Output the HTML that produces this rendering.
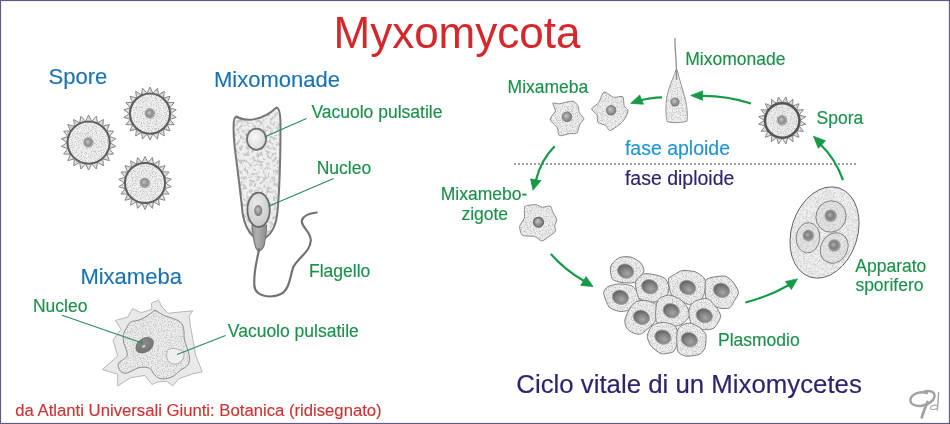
<!DOCTYPE html>
<html><head><meta charset="utf-8"><style>
html,body{margin:0;padding:0;background:#fff;}
svg{display:block;font-family:"Liberation Sans",sans-serif;will-change:transform;}
</style></head><body>
<svg width="950" height="424" viewBox="0 0 950 424">
<defs>
<radialGradient id="nucg" cx="0.5" cy="0.5" r="0.55" fx="0.4" fy="0.38"><stop offset="0" stop-color="#c8c8c8"/><stop offset="0.55" stop-color="#959595"/><stop offset="1" stop-color="#727272"/></radialGradient>
<radialGradient id="sporefill" cx="0.5" cy="0.5" r="0.5"><stop offset="0" stop-color="#e2e2e2"/><stop offset="1" stop-color="#d6d6d6"/></radialGradient>
<radialGradient id="vacg" cx="0.4" cy="0.4" r="0.7"><stop offset="0" stop-color="#f8f8f8"/><stop offset="1" stop-color="#d6d6d6"/></radialGradient>
<linearGradient id="neckg" x1="0" y1="0" x2="1" y2="0"><stop offset="0" stop-color="#9a9a9a"/><stop offset="0.35" stop-color="#b0b0b0"/><stop offset="1" stop-color="#8c8c8c"/></linearGradient>
<radialGradient id="nuclg" cx="0.4" cy="0.35" r="0.75"><stop offset="0" stop-color="#ebebeb"/><stop offset="1" stop-color="#c4c4c4"/></radialGradient>
<radialGradient id="nucdark" cx="0.55" cy="0.4" r="0.7"><stop offset="0" stop-color="#8a8a8a"/><stop offset="0.7" stop-color="#767676"/><stop offset="1" stop-color="#626262"/></radialGradient>
<radialGradient id="nucp" cx="0.62" cy="0.62" r="0.72"><stop offset="0" stop-color="#a4a4a4"/><stop offset="0.45" stop-color="#858585"/><stop offset="0.8" stop-color="#676767"/><stop offset="1" stop-color="#5a5a5a"/></radialGradient>
<filter id="speck" x="0" y="0" width="1" height="1" color-interpolation-filters="sRGB">
<feTurbulence type="fractalNoise" baseFrequency="0.8" numOctaves="2" seed="4" result="n"/>
<feColorMatrix in="n" type="matrix" values="0 0 0 0 0.78  0 0 0 0 0.78  0 0 0 0 0.78  -4.5 0 0 0 2.4" result="dots"/>
<feComposite in="dots" in2="SourceGraphic" operator="in" result="d2"/>
<feMerge><feMergeNode in="SourceGraphic"/><feMergeNode in="d2"/></feMerge>
</filter>
<filter id="blotch" x="0" y="0" width="1" height="1" color-interpolation-filters="sRGB">
<feTurbulence type="fractalNoise" baseFrequency="0.3" numOctaves="3" seed="7" result="n"/>
<feColorMatrix in="n" type="matrix" values="0 0 0 0 0.79  0 0 0 0 0.79  0 0 0 0 0.79  -6 0 0 0 3.2" result="dots"/>
<feComposite in="dots" in2="SourceGraphic" operator="in" result="d2"/>
<feMerge><feMergeNode in="SourceGraphic"/><feMergeNode in="d2"/></feMerge>
</filter>
<radialGradient id="nucsoft" cx="0.5" cy="0.5" r="0.5" fx="0.4" fy="0.4"><stop offset="0" stop-color="#c4c4c4"/><stop offset="0.55" stop-color="#8e8e8e"/><stop offset="0.8" stop-color="#9a9a9a" stop-opacity="0.8"/><stop offset="1" stop-color="#d0d0d0" stop-opacity="0"/></radialGradient>
<radialGradient id="nucsoft2" cx="0.5" cy="0.5" r="0.5" fx="0.4" fy="0.4"><stop offset="0" stop-color="#b0b0b0"/><stop offset="0.5" stop-color="#7e7e7e"/><stop offset="0.8" stop-color="#909090" stop-opacity="0.85"/><stop offset="1" stop-color="#c0c0c0" stop-opacity="0"/></radialGradient>
</defs>
<rect x="0.5" y="0.5" width="949" height="423" fill="#fff" stroke="#625b80" stroke-width="1"/><rect x="1.5" y="1.5" width="947" height="421" fill="none" stroke="#efecff" stroke-width="1"/><text x="333.5" y="48" font-size="44" fill="#d6282b" stroke="#d6282b" stroke-width="0" >Myxomycota</text><text x="48.6" y="84.4" font-size="22" fill="#1a72b4" stroke="#1a72b4" stroke-width="0.15" >Spore</text><text x="214" y="86.5" font-size="22" fill="#1a72b4" stroke="#1a72b4" stroke-width="0.15" >Mixomonade</text><text x="311.4" y="118.4" font-size="17.5" fill="#1a9149" stroke="#1a9149" stroke-width="0.15" >Vacuolo pulsatile</text><text x="316.7" y="173.6" font-size="17.5" fill="#1a9149" stroke="#1a9149" stroke-width="0.15" >Nucleo</text><text x="309" y="276.5" font-size="17.5" fill="#1a9149" stroke="#1a9149" stroke-width="0.15" >Flagello</text><text x="80.4" y="283.5" font-size="22" fill="#1a72b4" stroke="#1a72b4" stroke-width="0.15" >Mixameba</text><text x="32.9" y="311.8" font-size="17.5" fill="#1a9149" stroke="#1a9149" stroke-width="0.15" >Nucleo</text><text x="227.8" y="336.8" font-size="17.5" fill="#1a9149" stroke="#1a9149" stroke-width="0.15" >Vacuolo pulsatile</text><text x="15.3" y="416" font-size="16.7" fill="#cc3535" stroke="#cc3535" stroke-width="0.15" >da Atlanti Universali Giunti: Botanica (ridisegnato)</text><text x="685.3" y="64.7" font-size="17.5" fill="#1a9149" stroke="#1a9149" stroke-width="0.15" >Mixomonade</text><text x="507.6" y="92.6" font-size="17.5" fill="#1a9149" stroke="#1a9149" stroke-width="0.15" >Mixameba</text><text x="816.6" y="123.5" font-size="17.5" fill="#1a9149" stroke="#1a9149" stroke-width="0.15" >Spora</text><text x="624.9" y="154.5" font-size="19.5" fill="#1f95d6" stroke="#1f95d6" stroke-width="0.15" >fase aploide</text><text x="624.9" y="184.8" font-size="19.5" fill="#2b2470" stroke="#2b2470" stroke-width="0.15" >fase diploide</text><text x="440.8" y="200.3" font-size="17.5" fill="#1a9149" stroke="#1a9149" stroke-width="0.15" >Mixamebo-</text><text x="461.4" y="220.1" font-size="17.5" fill="#1a9149" stroke="#1a9149" stroke-width="0.15" >zigote</text><text x="855.3" y="271.8" font-size="17.5" fill="#1a9149" stroke="#1a9149" stroke-width="0.15" >Apparato</text><text x="855.4" y="291.3" font-size="17.5" fill="#1a9149" stroke="#1a9149" stroke-width="0.15" >sporifero</text><text x="718" y="345.6" font-size="17.5" fill="#1a9149" stroke="#1a9149" stroke-width="0.15" >Plasmodio</text><text x="516.3" y="393.4" font-size="25.8" fill="#2b2470" stroke="#2b2470" stroke-width="0.15" >Ciclo vitale di un Mixomycetes</text><line x1="514" y1="164" x2="856" y2="164" stroke="#9e9e9e" stroke-width="2" stroke-dasharray="2 2"/><path d="M751,103.5 Q725,95.5 701,96" fill="none" stroke="#179a48" stroke-width="2.2"/><path d="M690.7,95.4 L702.7,90.9 L702.5,100.3Z" fill="#179a48" stroke="#179a48" stroke-width="0.8" stroke-linejoin="round"/><path d="M662,97.3 Q650,97.5 640,100.5" fill="none" stroke="#179a48" stroke-width="2.2"/><path d="M630.7,103.4 L639.7,95 L643.5,104.2Z" fill="#179a48" stroke="#179a48" stroke-width="0.8" stroke-linejoin="round"/><path d="M554.7,146.3 Q541,160 536,180" fill="none" stroke="#179a48" stroke-width="2.2"/><path d="M533,190.2 L530.6,178.9 L541,180.6Z" fill="#179a48" stroke="#179a48" stroke-width="0.8" stroke-linejoin="round"/><path d="M843,180 Q835,158 820,144" fill="none" stroke="#179a48" stroke-width="2.2"/><path d="M813.4,136.3 L818.4,148.3 L825.5,140.8Z" fill="#179a48" stroke="#179a48" stroke-width="0.8" stroke-linejoin="round"/><path d="M550.8,254 Q565,270 584,281" fill="none" stroke="#179a48" stroke-width="2.2"/><path d="M593,286.5 L580.7,285.4 L586,276.5Z" fill="#179a48" stroke="#179a48" stroke-width="0.8" stroke-linejoin="round"/><path d="M745.3,302.5 Q770,296 789,285" fill="none" stroke="#179a48" stroke-width="2.2"/><path d="M797.5,278.9 L785.4,281.5 L791.3,289.5Z" fill="#179a48" stroke="#179a48" stroke-width="0.8" stroke-linejoin="round"/><path d="M110.20,142.60 L115.82,146.51 L109.33,148.69Z M109.33,148.69 L113.61,154.02 L106.77,154.28Z M106.77,154.28 L109.38,160.61 L102.74,158.92Z M102.74,158.92 L103.47,165.73 L97.57,162.25Z M97.57,162.25 L96.35,168.99 L91.67,163.98Z M91.67,163.98 L88.60,170.10 L85.53,163.98Z M85.53,163.98 L80.85,168.99 L79.63,162.25Z M79.63,162.25 L73.73,165.73 L74.46,158.92Z M74.46,158.92 L67.82,160.61 L70.43,154.28Z M70.43,154.28 L63.59,154.02 L67.87,148.69Z M67.87,148.69 L61.38,146.51 L67.00,142.60Z M67.00,142.60 L61.38,138.69 L67.87,136.51Z M67.87,136.51 L63.59,131.18 L70.43,130.92Z M70.43,130.92 L67.82,124.59 L74.46,126.28Z M74.46,126.28 L73.73,119.47 L79.63,122.95Z M79.63,122.95 L80.85,116.21 L85.53,121.22Z M85.53,121.22 L88.60,115.10 L91.67,121.22Z M91.67,121.22 L96.35,116.21 L97.57,122.95Z M97.57,122.95 L103.47,119.47 L102.74,126.28Z M102.74,126.28 L109.38,124.59 L106.77,130.92Z M106.77,130.92 L113.61,131.18 L109.33,136.51Z M109.33,136.51 L115.82,138.69 L110.20,142.60Z " fill="#e6e6e6" filter="url(#speck)"/><path d="M110.20,142.60 L115.82,146.51 L109.33,148.69Z M109.33,148.69 L113.61,154.02 L106.77,154.28Z M106.77,154.28 L109.38,160.61 L102.74,158.92Z M102.74,158.92 L103.47,165.73 L97.57,162.25Z M97.57,162.25 L96.35,168.99 L91.67,163.98Z M91.67,163.98 L88.60,170.10 L85.53,163.98Z M85.53,163.98 L80.85,168.99 L79.63,162.25Z M79.63,162.25 L73.73,165.73 L74.46,158.92Z M74.46,158.92 L67.82,160.61 L70.43,154.28Z M70.43,154.28 L63.59,154.02 L67.87,148.69Z M67.87,148.69 L61.38,146.51 L67.00,142.60Z M67.00,142.60 L61.38,138.69 L67.87,136.51Z M67.87,136.51 L63.59,131.18 L70.43,130.92Z M70.43,130.92 L67.82,124.59 L74.46,126.28Z M74.46,126.28 L73.73,119.47 L79.63,122.95Z M79.63,122.95 L80.85,116.21 L85.53,121.22Z M85.53,121.22 L88.60,115.10 L91.67,121.22Z M91.67,121.22 L96.35,116.21 L97.57,122.95Z M97.57,122.95 L103.47,119.47 L102.74,126.28Z M102.74,126.28 L109.38,124.59 L106.77,130.92Z M106.77,130.92 L113.61,131.18 L109.33,136.51Z M109.33,136.51 L115.82,138.69 L110.20,142.60Z " fill="none" stroke="#888888" stroke-width="1" stroke-linejoin="round"/><circle cx="88.6" cy="142.6" r="21" fill="#f0f0f0" filter="url(#speck)"/><circle cx="88.6" cy="142.6" r="21" fill="none" stroke="#5e5e5e" stroke-width="1.9"/><circle cx="88.6" cy="142.6" r="6" fill="url(#nucsoft)"/><path d="M170.60,113.60 L176.23,117.37 L169.77,119.40Z M169.77,119.40 L174.11,124.61 L167.33,124.74Z M167.33,124.74 L170.03,130.95 L163.49,129.17Z M163.49,129.17 L164.33,135.89 L158.56,132.34Z M158.56,132.34 L157.47,139.03 L152.93,133.99Z M152.93,133.99 L150.00,140.10 L147.07,133.99Z M147.07,133.99 L142.53,139.03 L141.44,132.34Z M141.44,132.34 L135.67,135.89 L136.51,129.17Z M136.51,129.17 L129.97,130.95 L132.67,124.74Z M132.67,124.74 L125.89,124.61 L130.23,119.40Z M130.23,119.40 L123.77,117.37 L129.40,113.60Z M129.40,113.60 L123.77,109.83 L130.23,107.80Z M130.23,107.80 L125.89,102.59 L132.67,102.46Z M132.67,102.46 L129.97,96.25 L136.51,98.03Z M136.51,98.03 L135.67,91.31 L141.44,94.86Z M141.44,94.86 L142.53,88.17 L147.07,93.21Z M147.07,93.21 L150.00,87.10 L152.93,93.21Z M152.93,93.21 L157.47,88.17 L158.56,94.86Z M158.56,94.86 L164.33,91.31 L163.49,98.03Z M163.49,98.03 L170.03,96.25 L167.33,102.46Z M167.33,102.46 L174.11,102.59 L169.77,107.80Z M169.77,107.80 L176.23,109.83 L170.60,113.60Z " fill="#e6e6e6" filter="url(#speck)"/><path d="M170.60,113.60 L176.23,117.37 L169.77,119.40Z M169.77,119.40 L174.11,124.61 L167.33,124.74Z M167.33,124.74 L170.03,130.95 L163.49,129.17Z M163.49,129.17 L164.33,135.89 L158.56,132.34Z M158.56,132.34 L157.47,139.03 L152.93,133.99Z M152.93,133.99 L150.00,140.10 L147.07,133.99Z M147.07,133.99 L142.53,139.03 L141.44,132.34Z M141.44,132.34 L135.67,135.89 L136.51,129.17Z M136.51,129.17 L129.97,130.95 L132.67,124.74Z M132.67,124.74 L125.89,124.61 L130.23,119.40Z M130.23,119.40 L123.77,117.37 L129.40,113.60Z M129.40,113.60 L123.77,109.83 L130.23,107.80Z M130.23,107.80 L125.89,102.59 L132.67,102.46Z M132.67,102.46 L129.97,96.25 L136.51,98.03Z M136.51,98.03 L135.67,91.31 L141.44,94.86Z M141.44,94.86 L142.53,88.17 L147.07,93.21Z M147.07,93.21 L150.00,87.10 L152.93,93.21Z M152.93,93.21 L157.47,88.17 L158.56,94.86Z M158.56,94.86 L164.33,91.31 L163.49,98.03Z M163.49,98.03 L170.03,96.25 L167.33,102.46Z M167.33,102.46 L174.11,102.59 L169.77,107.80Z M169.77,107.80 L176.23,109.83 L170.60,113.60Z " fill="none" stroke="#888888" stroke-width="1" stroke-linejoin="round"/><circle cx="150" cy="113.6" r="20" fill="#f0f0f0" filter="url(#speck)"/><circle cx="150" cy="113.6" r="20" fill="none" stroke="#5e5e5e" stroke-width="1.9"/><circle cx="150" cy="113.6" r="6" fill="url(#nucsoft)"/><path d="M165.60,183.00 L171.23,186.77 L164.77,188.80Z M164.77,188.80 L169.11,194.01 L162.33,194.14Z M162.33,194.14 L165.03,200.35 L158.49,198.57Z M158.49,198.57 L159.33,205.29 L153.56,201.74Z M153.56,201.74 L152.47,208.43 L147.93,203.39Z M147.93,203.39 L145.00,209.50 L142.07,203.39Z M142.07,203.39 L137.53,208.43 L136.44,201.74Z M136.44,201.74 L130.67,205.29 L131.51,198.57Z M131.51,198.57 L124.97,200.35 L127.67,194.14Z M127.67,194.14 L120.89,194.01 L125.23,188.80Z M125.23,188.80 L118.77,186.77 L124.40,183.00Z M124.40,183.00 L118.77,179.23 L125.23,177.20Z M125.23,177.20 L120.89,171.99 L127.67,171.86Z M127.67,171.86 L124.97,165.65 L131.51,167.43Z M131.51,167.43 L130.67,160.71 L136.44,164.26Z M136.44,164.26 L137.53,157.57 L142.07,162.61Z M142.07,162.61 L145.00,156.50 L147.93,162.61Z M147.93,162.61 L152.47,157.57 L153.56,164.26Z M153.56,164.26 L159.33,160.71 L158.49,167.43Z M158.49,167.43 L165.03,165.65 L162.33,171.86Z M162.33,171.86 L169.11,171.99 L164.77,177.20Z M164.77,177.20 L171.23,179.23 L165.60,183.00Z " fill="#e6e6e6" filter="url(#speck)"/><path d="M165.60,183.00 L171.23,186.77 L164.77,188.80Z M164.77,188.80 L169.11,194.01 L162.33,194.14Z M162.33,194.14 L165.03,200.35 L158.49,198.57Z M158.49,198.57 L159.33,205.29 L153.56,201.74Z M153.56,201.74 L152.47,208.43 L147.93,203.39Z M147.93,203.39 L145.00,209.50 L142.07,203.39Z M142.07,203.39 L137.53,208.43 L136.44,201.74Z M136.44,201.74 L130.67,205.29 L131.51,198.57Z M131.51,198.57 L124.97,200.35 L127.67,194.14Z M127.67,194.14 L120.89,194.01 L125.23,188.80Z M125.23,188.80 L118.77,186.77 L124.40,183.00Z M124.40,183.00 L118.77,179.23 L125.23,177.20Z M125.23,177.20 L120.89,171.99 L127.67,171.86Z M127.67,171.86 L124.97,165.65 L131.51,167.43Z M131.51,167.43 L130.67,160.71 L136.44,164.26Z M136.44,164.26 L137.53,157.57 L142.07,162.61Z M142.07,162.61 L145.00,156.50 L147.93,162.61Z M147.93,162.61 L152.47,157.57 L153.56,164.26Z M153.56,164.26 L159.33,160.71 L158.49,167.43Z M158.49,167.43 L165.03,165.65 L162.33,171.86Z M162.33,171.86 L169.11,171.99 L164.77,177.20Z M164.77,177.20 L171.23,179.23 L165.60,183.00Z " fill="none" stroke="#888888" stroke-width="1" stroke-linejoin="round"/><circle cx="145" cy="183" r="20" fill="#f0f0f0" filter="url(#speck)"/><circle cx="145" cy="183" r="20" fill="none" stroke="#5e5e5e" stroke-width="1.9"/><circle cx="145" cy="183" r="6" fill="url(#nucsoft)"/><path d="M800.00,120.50 L805.71,124.22 L799.13,126.00Z M799.13,126.00 L803.41,131.30 L796.60,130.96Z M796.60,130.96 L799.03,137.33 L792.66,134.90Z M792.66,134.90 L793.00,141.71 L787.70,137.43Z M787.70,137.43 L785.92,144.01 L782.20,138.30Z M782.20,138.30 L778.48,144.01 L776.70,137.43Z M776.70,137.43 L771.40,141.71 L771.74,134.90Z M771.74,134.90 L765.37,137.33 L767.80,130.96Z M767.80,130.96 L760.99,131.30 L765.27,126.00Z M765.27,126.00 L758.69,124.22 L764.40,120.50Z M764.40,120.50 L758.69,116.78 L765.27,115.00Z M765.27,115.00 L760.99,109.70 L767.80,110.04Z M767.80,110.04 L765.37,103.67 L771.74,106.10Z M771.74,106.10 L771.40,99.29 L776.70,103.57Z M776.70,103.57 L778.48,96.99 L782.20,102.70Z M782.20,102.70 L785.92,96.99 L787.70,103.57Z M787.70,103.57 L793.00,99.29 L792.66,106.10Z M792.66,106.10 L799.03,103.67 L796.60,110.04Z M796.60,110.04 L803.41,109.70 L799.13,115.00Z M799.13,115.00 L805.71,116.78 L800.00,120.50Z " fill="#e6e6e6" filter="url(#speck)"/><path d="M800.00,120.50 L805.71,124.22 L799.13,126.00Z M799.13,126.00 L803.41,131.30 L796.60,130.96Z M796.60,130.96 L799.03,137.33 L792.66,134.90Z M792.66,134.90 L793.00,141.71 L787.70,137.43Z M787.70,137.43 L785.92,144.01 L782.20,138.30Z M782.20,138.30 L778.48,144.01 L776.70,137.43Z M776.70,137.43 L771.40,141.71 L771.74,134.90Z M771.74,134.90 L765.37,137.33 L767.80,130.96Z M767.80,130.96 L760.99,131.30 L765.27,126.00Z M765.27,126.00 L758.69,124.22 L764.40,120.50Z M764.40,120.50 L758.69,116.78 L765.27,115.00Z M765.27,115.00 L760.99,109.70 L767.80,110.04Z M767.80,110.04 L765.37,103.67 L771.74,106.10Z M771.74,106.10 L771.40,99.29 L776.70,103.57Z M776.70,103.57 L778.48,96.99 L782.20,102.70Z M782.20,102.70 L785.92,96.99 L787.70,103.57Z M787.70,103.57 L793.00,99.29 L792.66,106.10Z M792.66,106.10 L799.03,103.67 L796.60,110.04Z M796.60,110.04 L803.41,109.70 L799.13,115.00Z M799.13,115.00 L805.71,116.78 L800.00,120.50Z " fill="none" stroke="#888888" stroke-width="1" stroke-linejoin="round"/><circle cx="782.2" cy="120.5" r="17.2" fill="#ececec" filter="url(#speck)"/><circle cx="782.2" cy="120.5" r="17.2" fill="none" stroke="#555" stroke-width="2.4"/><circle cx="782.2" cy="120.5" r="6" fill="url(#nucsoft)"/><path d="M236,116.5 C246,122 262,121 276.5,107.5 C279,108 280.5,114 280.5,125 C280.5,160 279,195 277.5,212 C276.5,224 272,233 266,237.5 L253,236 C247.5,231 244,222 242.5,213 C241.5,200 237.5,170 234.8,148 C233.6,138 233.4,128 233.8,122 C234,119 234.8,117.5 236,116.5Z" fill="#efefef" filter="url(#blotch)"/><path d="M236,116.5 C246,122 262,121 276.5,107.5 C279,108 280.5,114 280.5,125 C280.5,160 279,195 277.5,212 C276.5,224 272,233 266,237.5 L253,236 C247.5,231 244,222 242.5,213 C241.5,200 237.5,170 234.8,148 C233.6,138 233.4,128 233.8,122 C234,119 234.8,117.5 236,116.5Z" fill="none" stroke="#767676" stroke-width="2" stroke-linejoin="round"/><ellipse cx="256.5" cy="139.2" rx="9.6" ry="10.6" fill="url(#vacg)" stroke="#6e6e6e" stroke-width="1.8"/><path d="M252,225 C252.5,232 253.5,240 255,245 C256,249 258,250.8 259.5,250.8 C261,250.8 263.5,248 264.5,244 C265.5,238 266.5,231 266.5,225Z" fill="url(#neckg)" stroke="#7a7a7a" stroke-width="1.2"/><ellipse cx="258.6" cy="209.8" rx="11.2" ry="17.2" fill="url(#nuclg)" stroke="#6a6a6a" stroke-width="1.8"/><ellipse cx="258.2" cy="210.6" rx="4" ry="5.5" fill="url(#nucg)"/><path d="M259,249 C257,262 253,272 254.5,287 C256,296 270,299 281,294 C290,289 290,276 293,268 C296,259 311,252 310.8,240 C310.5,231 300,226 302,220 C304,215 312,213 316.7,212.5" fill="none" stroke="#727272" stroke-width="2.2" stroke-linecap="round"/><line x1="265" y1="136.8" x2="306.4" y2="118.6" stroke="#2a8a5e" stroke-width="1.1"/><line x1="268.6" y1="206.2" x2="333.6" y2="178.4" stroke="#2a8a5e" stroke-width="1.1"/><path d="M158.50,300.00 L162.00,307.00 L168.00,313.30 L180.00,312.00 L192.70,310.90 L189.20,316.20 L190.40,325.70 L193.90,345.00 L195.60,355.00 L202.20,371.80 L191.60,374.20 L178.60,378.90 L172.70,386.00 L166.80,381.30 L158.00,382.00 L151.90,384.50 L144.80,375.40 L130.70,377.70 L117.70,386.00 L117.70,374.20 L102.40,369.50 L117.70,356.00 L113.00,340.00 L121.20,329.20 L115.30,320.40 L128.00,317.00 L132.40,308.60 L141.30,312.70 L151.90,309.20 L151.30,303.30Z" fill="#e9e9e9" stroke="#b8b8b8" stroke-width="1" stroke-linejoin="round"/><path d="M155.00,310.30 C157.08,310.78 161.07,314.12 164.40,315.60 C167.73,317.08 172.15,317.92 175.00,319.20 C177.85,320.48 180.02,321.43 181.50,323.30 C182.98,325.17 183.40,327.65 183.90,330.40 C184.40,333.15 183.62,335.65 184.50,339.80 C185.38,343.95 188.62,351.13 189.20,355.30 C189.78,359.47 189.57,362.23 188.00,364.80 C186.43,367.37 182.35,368.73 179.80,370.70 C177.25,372.67 175.67,375.23 172.70,376.60 C169.73,377.97 164.95,379.10 162.00,378.90 C159.05,378.70 157.08,377.17 155.00,375.40 C152.92,373.63 152.18,369.58 149.50,368.30 C146.82,367.02 142.63,366.92 138.90,367.70 C135.17,368.48 130.15,372.40 127.10,373.00 C124.05,373.60 122.07,372.87 120.60,371.30 C119.13,369.73 117.22,366.27 118.30,363.60 C119.38,360.93 126.22,358.90 127.10,355.30 C127.98,351.70 124.18,345.57 123.60,342.00 C123.02,338.43 123.12,336.23 123.60,333.90 C124.08,331.57 125.32,329.97 126.50,328.00 C127.68,326.03 128.23,323.57 130.70,322.10 C133.17,320.63 137.77,320.77 141.30,319.20 C144.83,317.63 149.62,314.18 151.90,312.70 C154.18,311.22 152.92,309.82 155.00,310.30Z" fill="#ececec" filter="url(#speck)"/><path d="M155.00,310.30 C157.08,310.78 161.07,314.12 164.40,315.60 C167.73,317.08 172.15,317.92 175.00,319.20 C177.85,320.48 180.02,321.43 181.50,323.30 C182.98,325.17 183.40,327.65 183.90,330.40 C184.40,333.15 183.62,335.65 184.50,339.80 C185.38,343.95 188.62,351.13 189.20,355.30 C189.78,359.47 189.57,362.23 188.00,364.80 C186.43,367.37 182.35,368.73 179.80,370.70 C177.25,372.67 175.67,375.23 172.70,376.60 C169.73,377.97 164.95,379.10 162.00,378.90 C159.05,378.70 157.08,377.17 155.00,375.40 C152.92,373.63 152.18,369.58 149.50,368.30 C146.82,367.02 142.63,366.92 138.90,367.70 C135.17,368.48 130.15,372.40 127.10,373.00 C124.05,373.60 122.07,372.87 120.60,371.30 C119.13,369.73 117.22,366.27 118.30,363.60 C119.38,360.93 126.22,358.90 127.10,355.30 C127.98,351.70 124.18,345.57 123.60,342.00 C123.02,338.43 123.12,336.23 123.60,333.90 C124.08,331.57 125.32,329.97 126.50,328.00 C127.68,326.03 128.23,323.57 130.70,322.10 C133.17,320.63 137.77,320.77 141.30,319.20 C144.83,317.63 149.62,314.18 151.90,312.70 C154.18,311.22 152.92,309.82 155.00,310.30Z" fill="none" stroke="#8c8c8c" stroke-width="1" stroke-linejoin="round"/><path d="M167.5,350.5 C170,347.5 176,348 179,350 C182,349.5 184.5,352 184,355.5 C183.5,359.5 181,362.5 177,364 C172,365 167.5,362 166.8,357.5 C166.5,355 166.5,352.5 167.5,350.5Z" fill="#efefef" stroke="#a0a0a0" stroke-width="0.8"/><ellipse cx="144.7" cy="345.2" rx="10" ry="7.2" transform="rotate(-33 144.7 345.2)" fill="url(#nucdark)"/><ellipse cx="143.8" cy="346.3" rx="2.3" ry="1.5" transform="rotate(-25 143.8 346.3)" fill="#d0d0d0" stroke="#666" stroke-width="0.5"/><line x1="62" y1="315.3" x2="143" y2="343.2" stroke="#2a8a5e" stroke-width="1.1"/><line x1="177" y1="354.4" x2="225.5" y2="335.5" stroke="#2a8a5e" stroke-width="1.1"/><path d="M676,70 C673.5,78 668,88 666.4,100 C665.5,110 665.8,117 667.4,121.8 C673,123.2 681,123 686.9,121.2 C688,116 687.2,106 684.7,97 C682.2,88 679,78 677.2,70Z" fill="#f0f0f0" filter="url(#speck)"/><path d="M676,70 C673.5,78 668,88 666.4,100 C665.5,110 665.8,117 667.4,121.8 C673,123.2 681,123 686.9,121.2 C688,116 687.2,106 684.7,97 C682.2,88 679,78 677.2,70Z" fill="none" stroke="#959595" stroke-width="1" stroke-linejoin="round"/><path d="M675,38 C674.5,48 676.8,60 676.6,80" fill="none" stroke="#8e8e8e" stroke-width="1.3"/><circle cx="675" cy="102" r="4.6" fill="url(#nucg)"/><path d="M552.80,103.20 C553.32,102.24 556.71,104.07 559.30,103.80 C561.89,103.53 569.71,100.93 572.20,101.20 C574.69,101.47 577.04,104.24 578.00,105.80 C578.96,107.36 578.61,111.18 579.40,112.90 C580.19,114.62 583.82,117.23 583.90,118.70 C583.98,120.17 580.95,121.99 580.00,123.90 C579.05,125.81 578.19,131.71 576.80,133.00 C575.41,134.29 571.93,133.25 569.60,133.60 C567.27,133.95 560.94,136.37 559.30,135.60 C557.66,134.83 558.51,129.96 557.30,127.80 C556.09,125.64 550.45,121.64 550.20,119.40 C549.95,117.16 555.05,113.16 555.40,111.00 C555.75,108.84 552.28,104.16 552.80,103.20Z" fill="#eeeeee" filter="url(#speck)"/><path d="M552.80,103.20 C553.32,102.24 556.71,104.07 559.30,103.80 C561.89,103.53 569.71,100.93 572.20,101.20 C574.69,101.47 577.04,104.24 578.00,105.80 C578.96,107.36 578.61,111.18 579.40,112.90 C580.19,114.62 583.82,117.23 583.90,118.70 C583.98,120.17 580.95,121.99 580.00,123.90 C579.05,125.81 578.19,131.71 576.80,133.00 C575.41,134.29 571.93,133.25 569.60,133.60 C567.27,133.95 560.94,136.37 559.30,135.60 C557.66,134.83 558.51,129.96 557.30,127.80 C556.09,125.64 550.45,121.64 550.20,119.40 C549.95,117.16 555.05,113.16 555.40,111.00 C555.75,108.84 552.28,104.16 552.80,103.20Z" fill="none" stroke="#8a8a8a" stroke-width="1" stroke-linejoin="round"/><circle cx="567" cy="116.8" r="5.2" fill="url(#nucg)"/><path d="M591.70,109.00 C591.95,107.36 597.16,104.75 598.80,102.50 C600.44,100.25 602.01,92.79 604.00,92.10 C605.99,91.41 611.19,96.69 613.70,97.30 C616.21,97.91 621.41,95.57 622.80,96.70 C624.19,97.83 623.41,103.89 624.10,105.80 C624.79,107.71 628.17,108.93 628.00,111.00 C627.83,113.07 625.13,118.71 622.80,121.30 C620.47,123.89 612.83,129.88 610.50,130.40 C608.17,130.92 606.94,126.24 605.30,125.20 C603.66,124.16 599.32,123.99 598.20,122.60 C597.08,121.21 597.77,116.61 596.90,114.80 C596.03,112.99 591.45,110.64 591.70,109.00Z" fill="#eeeeee" filter="url(#speck)"/><path d="M591.70,109.00 C591.95,107.36 597.16,104.75 598.80,102.50 C600.44,100.25 602.01,92.79 604.00,92.10 C605.99,91.41 611.19,96.69 613.70,97.30 C616.21,97.91 621.41,95.57 622.80,96.70 C624.19,97.83 623.41,103.89 624.10,105.80 C624.79,107.71 628.17,108.93 628.00,111.00 C627.83,113.07 625.13,118.71 622.80,121.30 C620.47,123.89 612.83,129.88 610.50,130.40 C608.17,130.92 606.94,126.24 605.30,125.20 C603.66,124.16 599.32,123.99 598.20,122.60 C597.08,121.21 597.77,116.61 596.90,114.80 C596.03,112.99 591.45,110.64 591.70,109.00Z" fill="none" stroke="#8a8a8a" stroke-width="1" stroke-linejoin="round"/><circle cx="611.1" cy="110.3" r="5.2" fill="url(#nucg)"/><path d="M525.60,206.00 C526.95,205.31 533.94,204.55 535.90,204.70 C537.86,204.85 540.73,207.15 542.40,207.30 C544.07,207.45 548.99,205.46 550.20,206.00 C551.41,206.54 552.04,210.31 552.80,211.90 C553.56,213.49 556.48,217.94 556.70,219.60 C556.92,221.26 554.85,224.73 554.70,226.10 C554.55,227.47 556.08,230.09 555.40,231.30 C554.72,232.51 550.49,235.37 548.90,236.50 C547.31,237.63 543.47,241.00 541.80,241.00 C540.13,241.00 536.88,237.18 534.60,236.50 C532.33,235.82 524.04,236.41 522.30,235.20 C520.56,233.99 519.47,228.07 519.70,226.10 C519.93,224.13 523.76,220.11 524.30,218.30 C524.84,216.49 524.15,212.03 524.30,210.60 C524.45,209.16 524.25,206.69 525.60,206.00Z" fill="#eeeeee" filter="url(#speck)"/><path d="M525.60,206.00 C526.95,205.31 533.94,204.55 535.90,204.70 C537.86,204.85 540.73,207.15 542.40,207.30 C544.07,207.45 548.99,205.46 550.20,206.00 C551.41,206.54 552.04,210.31 552.80,211.90 C553.56,213.49 556.48,217.94 556.70,219.60 C556.92,221.26 554.85,224.73 554.70,226.10 C554.55,227.47 556.08,230.09 555.40,231.30 C554.72,232.51 550.49,235.37 548.90,236.50 C547.31,237.63 543.47,241.00 541.80,241.00 C540.13,241.00 536.88,237.18 534.60,236.50 C532.33,235.82 524.04,236.41 522.30,235.20 C520.56,233.99 519.47,228.07 519.70,226.10 C519.93,224.13 523.76,220.11 524.30,218.30 C524.84,216.49 524.15,212.03 524.30,210.60 C524.45,209.16 524.25,206.69 525.60,206.00Z" fill="none" stroke="#8a8a8a" stroke-width="1" stroke-linejoin="round"/><circle cx="538.5" cy="222.2" r="5" fill="url(#nucg)" stroke="#666" stroke-width="1.1"/><path d="M610.70,266.20 C611.52,263.73 616.88,258.77 619.20,257.70 C621.52,256.63 628.12,256.43 630.60,257.00 C633.09,257.57 638.94,261.04 640.50,262.60 C642.06,264.16 644.00,268.74 644.00,270.40 C644.00,272.06 641.65,275.39 640.50,276.80 C639.35,278.21 636.26,281.83 634.10,282.50 C631.94,283.17 624.55,282.92 622.00,282.50 C619.45,282.08 613.52,280.80 612.20,278.90 C610.88,277.00 609.88,268.67 610.70,266.20Z" fill="#eeeeee" filter="url(#speck)"/><path d="M610.70,266.20 C611.52,263.73 616.88,258.77 619.20,257.70 C621.52,256.63 628.12,256.43 630.60,257.00 C633.09,257.57 638.94,261.04 640.50,262.60 C642.06,264.16 644.00,268.74 644.00,270.40 C644.00,272.06 641.65,275.39 640.50,276.80 C639.35,278.21 636.26,281.83 634.10,282.50 C631.94,283.17 624.55,282.92 622.00,282.50 C619.45,282.08 613.52,280.80 612.20,278.90 C610.88,277.00 609.88,268.67 610.70,266.20Z" fill="none" stroke="#7e7e7e" stroke-width="1" stroke-linejoin="round"/><ellipse cx="625.6" cy="271.1" rx="8.3" ry="7" transform="rotate(20 625.6 271.1)" fill="url(#nucp)" stroke="#a0a0a0" stroke-width="0.8"/><path d="M603.70,293.00 C603.54,290.61 606.09,287.76 607.90,286.70 C609.71,285.64 616.39,283.98 619.20,283.90 C622.01,283.82 629.84,284.94 632.00,286.00 C634.16,287.06 636.88,291.18 637.70,293.00 C638.52,294.82 639.50,299.77 639.00,301.60 C638.50,303.43 635.53,307.55 633.40,308.70 C631.26,309.85 623.51,311.68 620.70,311.50 C617.89,311.32 611.28,309.36 609.30,307.20 C607.32,305.04 603.86,295.39 603.70,293.00Z" fill="#eeeeee" filter="url(#speck)"/><path d="M603.70,293.00 C603.54,290.61 606.09,287.76 607.90,286.70 C609.71,285.64 616.39,283.98 619.20,283.90 C622.01,283.82 629.84,284.94 632.00,286.00 C634.16,287.06 636.88,291.18 637.70,293.00 C638.52,294.82 639.50,299.77 639.00,301.60 C638.50,303.43 635.53,307.55 633.40,308.70 C631.26,309.85 623.51,311.68 620.70,311.50 C617.89,311.32 611.28,309.36 609.30,307.20 C607.32,305.04 603.86,295.39 603.70,293.00Z" fill="none" stroke="#7e7e7e" stroke-width="1" stroke-linejoin="round"/><ellipse cx="620.4" cy="297.3" rx="8.3" ry="7" transform="rotate(20 620.4 297.3)" fill="url(#nucp)" stroke="#a0a0a0" stroke-width="0.8"/><path d="M635.50,282.50 C636.07,279.78 641.06,274.91 643.30,274.00 C645.54,273.09 652.22,274.21 654.70,274.70 C657.19,275.19 662.96,276.88 664.60,278.20 C666.25,279.52 668.47,284.10 668.80,286.00 C669.13,287.90 668.72,292.68 667.40,294.50 C666.08,296.32 659.97,300.77 657.50,301.60 C655.03,302.43 648.43,302.10 646.20,301.60 C643.97,301.10 639.65,299.53 638.40,297.30 C637.15,295.07 634.93,285.22 635.50,282.50Z" fill="#eeeeee" filter="url(#speck)"/><path d="M635.50,282.50 C636.07,279.78 641.06,274.91 643.30,274.00 C645.54,273.09 652.22,274.21 654.70,274.70 C657.19,275.19 662.96,276.88 664.60,278.20 C666.25,279.52 668.47,284.10 668.80,286.00 C669.13,287.90 668.72,292.68 667.40,294.50 C666.08,296.32 659.97,300.77 657.50,301.60 C655.03,302.43 648.43,302.10 646.20,301.60 C643.97,301.10 639.65,299.53 638.40,297.30 C637.15,295.07 634.93,285.22 635.50,282.50Z" fill="none" stroke="#7e7e7e" stroke-width="1" stroke-linejoin="round"/><ellipse cx="649.7" cy="286.7" rx="8.3" ry="7" transform="rotate(20 649.7 286.7)" fill="url(#nucp)" stroke="#a0a0a0" stroke-width="0.8"/><path d="M668.50,279.00 C668.91,276.85 672.46,275.69 674.10,274.70 C675.75,273.71 680.12,270.83 682.60,270.50 C685.09,270.17 692.93,271.07 695.40,271.90 C697.87,272.73 702.56,276.12 703.80,277.60 C705.04,279.08 706.08,282.37 706.00,284.60 C705.92,286.83 704.01,294.72 703.10,296.70 C702.19,298.68 699.93,300.70 698.20,301.60 C696.47,302.50 690.94,304.89 688.30,304.40 C685.66,303.91 677.66,298.72 675.60,297.40 C673.54,296.08 671.43,295.25 670.60,293.10 C669.77,290.95 668.09,281.15 668.50,279.00Z" fill="#eeeeee" filter="url(#speck)"/><path d="M668.50,279.00 C668.91,276.85 672.46,275.69 674.10,274.70 C675.75,273.71 680.12,270.83 682.60,270.50 C685.09,270.17 692.93,271.07 695.40,271.90 C697.87,272.73 702.56,276.12 703.80,277.60 C705.04,279.08 706.08,282.37 706.00,284.60 C705.92,286.83 704.01,294.72 703.10,296.70 C702.19,298.68 699.93,300.70 698.20,301.60 C696.47,302.50 690.94,304.89 688.30,304.40 C685.66,303.91 677.66,298.72 675.60,297.40 C673.54,296.08 671.43,295.25 670.60,293.10 C669.77,290.95 668.09,281.15 668.50,279.00Z" fill="none" stroke="#7e7e7e" stroke-width="1" stroke-linejoin="round"/><ellipse cx="687.6" cy="287.5" rx="8.3" ry="7" transform="rotate(20 687.6 287.5)" fill="url(#nucp)" stroke="#a0a0a0" stroke-width="0.8"/><path d="M705.30,281.80 C705.79,279.00 708.60,278.27 710.90,277.60 C713.20,276.94 722.45,275.61 725.00,276.10 C727.55,276.59 731.22,279.90 732.80,281.80 C734.38,283.70 738.42,290.01 738.50,292.40 C738.58,294.79 734.57,300.48 733.50,302.30 C732.43,304.12 730.94,307.33 729.30,308.00 C727.65,308.67 722.04,308.75 719.40,308.00 C716.76,307.25 708.35,304.66 706.70,301.60 C705.06,298.54 704.81,284.60 705.30,281.80Z" fill="#eeeeee" filter="url(#speck)"/><path d="M705.30,281.80 C705.79,279.00 708.60,278.27 710.90,277.60 C713.20,276.94 722.45,275.61 725.00,276.10 C727.55,276.59 731.22,279.90 732.80,281.80 C734.38,283.70 738.42,290.01 738.50,292.40 C738.58,294.79 734.57,300.48 733.50,302.30 C732.43,304.12 730.94,307.33 729.30,308.00 C727.65,308.67 722.04,308.75 719.40,308.00 C716.76,307.25 708.35,304.66 706.70,301.60 C705.06,298.54 704.81,284.60 705.30,281.80Z" fill="none" stroke="#7e7e7e" stroke-width="1" stroke-linejoin="round"/><ellipse cx="721.5" cy="290.3" rx="8.3" ry="7" transform="rotate(20 721.5 290.3)" fill="url(#nucp)" stroke="#a0a0a0" stroke-width="0.8"/><path d="M624.90,319.80 C625.28,317.49 628.55,310.32 629.90,308.20 C631.25,306.08 634.62,302.50 636.50,301.60 C638.38,300.70 643.69,300.12 646.00,300.50 C648.31,300.88 654.90,303.03 656.30,304.90 C657.70,306.77 658.38,314.28 658.00,316.50 C657.62,318.72 654.94,321.88 653.00,323.90 C651.06,325.92 643.71,332.74 641.40,333.80 C639.09,334.86 634.93,333.68 633.20,333.00 C631.47,332.32 627.57,329.54 626.60,328.00 C625.63,326.46 624.51,322.11 624.90,319.80Z" fill="#eeeeee" filter="url(#speck)"/><path d="M624.90,319.80 C625.28,317.49 628.55,310.32 629.90,308.20 C631.25,306.08 634.62,302.50 636.50,301.60 C638.38,300.70 643.69,300.12 646.00,300.50 C648.31,300.88 654.90,303.03 656.30,304.90 C657.70,306.77 658.38,314.28 658.00,316.50 C657.62,318.72 654.94,321.88 653.00,323.90 C651.06,325.92 643.71,332.74 641.40,333.80 C639.09,334.86 634.93,333.68 633.20,333.00 C631.47,332.32 627.57,329.54 626.60,328.00 C625.63,326.46 624.51,322.11 624.90,319.80Z" fill="none" stroke="#7e7e7e" stroke-width="1" stroke-linejoin="round"/><ellipse cx="641.4" cy="317.3" rx="8.3" ry="7" transform="rotate(20 641.4 317.3)" fill="url(#nucp)" stroke="#a0a0a0" stroke-width="0.8"/><path d="M656.30,304.90 C656.68,302.20 658.06,299.45 659.60,298.30 C661.14,297.15 667.00,294.80 669.50,295.00 C672.00,295.20 678.88,298.46 681.00,300.00 C683.12,301.54 686.73,306.27 687.70,308.20 C688.67,310.12 690.08,314.57 689.30,316.50 C688.52,318.43 683.51,323.45 681.00,324.70 C678.49,325.95 670.68,327.58 667.80,327.20 C664.92,326.81 657.64,324.00 656.30,321.40 C654.96,318.80 655.91,307.59 656.30,304.90Z" fill="#eeeeee" filter="url(#speck)"/><path d="M656.30,304.90 C656.68,302.20 658.06,299.45 659.60,298.30 C661.14,297.15 667.00,294.80 669.50,295.00 C672.00,295.20 678.88,298.46 681.00,300.00 C683.12,301.54 686.73,306.27 687.70,308.20 C688.67,310.12 690.08,314.57 689.30,316.50 C688.52,318.43 683.51,323.45 681.00,324.70 C678.49,325.95 670.68,327.58 667.80,327.20 C664.92,326.81 657.64,324.00 656.30,321.40 C654.96,318.80 655.91,307.59 656.30,304.90Z" fill="none" stroke="#7e7e7e" stroke-width="1" stroke-linejoin="round"/><ellipse cx="671.2" cy="310.7" rx="8.3" ry="7" transform="rotate(20 671.2 310.7)" fill="url(#nucp)" stroke="#a0a0a0" stroke-width="0.8"/><path d="M689.30,308.20 C689.88,306.46 692.23,302.73 694.30,301.60 C696.37,300.47 704.50,297.92 707.00,298.50 C709.50,299.08 714.10,304.50 715.70,306.60 C717.30,308.70 720.90,314.00 720.70,316.50 C720.50,319.00 715.92,326.46 714.00,328.00 C712.08,329.54 706.70,329.89 704.20,329.70 C701.70,329.51 694.34,327.94 692.60,326.40 C690.86,324.86 689.68,318.62 689.30,316.50 C688.91,314.38 688.72,309.94 689.30,308.20Z" fill="#eeeeee" filter="url(#speck)"/><path d="M689.30,308.20 C689.88,306.46 692.23,302.73 694.30,301.60 C696.37,300.47 704.50,297.92 707.00,298.50 C709.50,299.08 714.10,304.50 715.70,306.60 C717.30,308.70 720.90,314.00 720.70,316.50 C720.50,319.00 715.92,326.46 714.00,328.00 C712.08,329.54 706.70,329.89 704.20,329.70 C701.70,329.51 694.34,327.94 692.60,326.40 C690.86,324.86 689.68,318.62 689.30,316.50 C688.91,314.38 688.72,309.94 689.30,308.20Z" fill="none" stroke="#7e7e7e" stroke-width="1" stroke-linejoin="round"/><ellipse cx="704.2" cy="315.6" rx="8.3" ry="7" transform="rotate(20 704.2 315.6)" fill="url(#nucp)" stroke="#a0a0a0" stroke-width="0.8"/><path d="M647.20,336.30 C647.31,333.90 650.37,327.23 652.20,325.60 C654.03,323.97 660.30,322.30 662.90,322.30 C665.50,322.30 672.76,324.35 674.50,325.60 C676.24,326.85 677.52,330.80 677.80,333.00 C678.08,335.20 677.48,342.28 676.90,344.50 C676.32,346.72 674.63,350.94 672.80,352.00 C670.97,353.06 663.71,354.28 661.20,353.60 C658.69,352.92 652.93,348.22 651.30,346.20 C649.67,344.18 647.10,338.70 647.20,336.30Z" fill="#eeeeee" filter="url(#speck)"/><path d="M647.20,336.30 C647.31,333.90 650.37,327.23 652.20,325.60 C654.03,323.97 660.30,322.30 662.90,322.30 C665.50,322.30 672.76,324.35 674.50,325.60 C676.24,326.85 677.52,330.80 677.80,333.00 C678.08,335.20 677.48,342.28 676.90,344.50 C676.32,346.72 674.63,350.94 672.80,352.00 C670.97,353.06 663.71,354.28 661.20,353.60 C658.69,352.92 652.93,348.22 651.30,346.20 C649.67,344.18 647.10,338.70 647.20,336.30Z" fill="none" stroke="#7e7e7e" stroke-width="1" stroke-linejoin="round"/><ellipse cx="662.9" cy="337.1" rx="8.3" ry="7" transform="rotate(20 662.9 337.1)" fill="url(#nucp)" stroke="#a0a0a0" stroke-width="0.8"/><path d="M676.90,333.00 C677.18,330.11 678.75,327.57 680.20,326.40 C681.65,325.23 687.08,322.91 689.30,323.00 C691.52,323.09 697.28,325.85 699.20,327.20 C701.12,328.55 705.12,332.20 705.80,334.60 C706.48,337.00 705.77,345.48 705.00,347.80 C704.23,350.12 701.42,353.53 699.20,354.50 C696.98,355.47 688.50,356.49 686.00,356.10 C683.50,355.72 678.86,353.89 677.80,351.20 C676.74,348.50 676.62,335.89 676.90,333.00Z" fill="#eeeeee" filter="url(#speck)"/><path d="M676.90,333.00 C677.18,330.11 678.75,327.57 680.20,326.40 C681.65,325.23 687.08,322.91 689.30,323.00 C691.52,323.09 697.28,325.85 699.20,327.20 C701.12,328.55 705.12,332.20 705.80,334.60 C706.48,337.00 705.77,345.48 705.00,347.80 C704.23,350.12 701.42,353.53 699.20,354.50 C696.98,355.47 688.50,356.49 686.00,356.10 C683.50,355.72 678.86,353.89 677.80,351.20 C676.74,348.50 676.62,335.89 676.90,333.00Z" fill="none" stroke="#7e7e7e" stroke-width="1" stroke-linejoin="round"/><ellipse cx="689.3" cy="339.6" rx="8.3" ry="7" transform="rotate(20 689.3 339.6)" fill="url(#nucp)" stroke="#a0a0a0" stroke-width="0.8"/><g transform="rotate(18 824.5 232.5)"><ellipse cx="824.5" cy="232.5" rx="33" ry="46.8" fill="#f2f2f2" filter="url(#speck)"/><ellipse cx="824.5" cy="232.5" rx="33" ry="46.8" fill="none" stroke="#626262" stroke-width="0.9"/></g><ellipse cx="831" cy="216.5" rx="15" ry="15.8" transform="rotate(20 831 216.5)" fill="#e6e6e6" filter="url(#speck)"/><ellipse cx="831" cy="216.5" rx="15" ry="15.8" transform="rotate(20 831 216.5)" fill="none" stroke="#7e7e7e" stroke-width="0.9"/><circle cx="830.8" cy="215.9" r="7" fill="url(#nucsoft2)"/><ellipse cx="808" cy="237.8" rx="11.8" ry="15.2" transform="rotate(5 808 237.8)" fill="#e6e6e6" filter="url(#speck)"/><ellipse cx="808" cy="237.8" rx="11.8" ry="15.2" transform="rotate(5 808 237.8)" fill="none" stroke="#7e7e7e" stroke-width="0.9"/><circle cx="808.5" cy="235.7" r="6.5" fill="url(#nucsoft2)"/><ellipse cx="834.2" cy="248" rx="13.2" ry="15.8" transform="rotate(30 834.2 248)" fill="#e6e6e6" filter="url(#speck)"/><ellipse cx="834.2" cy="248" rx="13.2" ry="15.8" transform="rotate(30 834.2 248)" fill="none" stroke="#7e7e7e" stroke-width="0.9"/><circle cx="834.5" cy="245.6" r="7" fill="url(#nucsoft2)"/><path d="M927,393 C921,390.8 912,393.5 910.5,399 C909.5,404 915,406.5 921,406 C929,405 935,400 934.5,395 C934,391 929,390.3 924.5,391.5" fill="none" stroke="#a2a2a2" stroke-width="2.4" stroke-linecap="round"/><path d="M927.5,402 C925.5,407 923,412.5 921.8,417.5" fill="none" stroke="#a2a2a2" stroke-width="2.8" stroke-linecap="round"/><path d="M938.6,392.6 C938.3,398 937.8,404 937.3,410" fill="none" stroke="#a8a8a8" stroke-width="1.5" stroke-linecap="round"/><path d="M937.2,405.5 C934,404.5 930.5,406 930.3,408 C930.2,410 934,410 937.2,408.5" fill="none" stroke="#a8a8a8" stroke-width="1.1" stroke-linecap="round"/>
</svg></body></html>
